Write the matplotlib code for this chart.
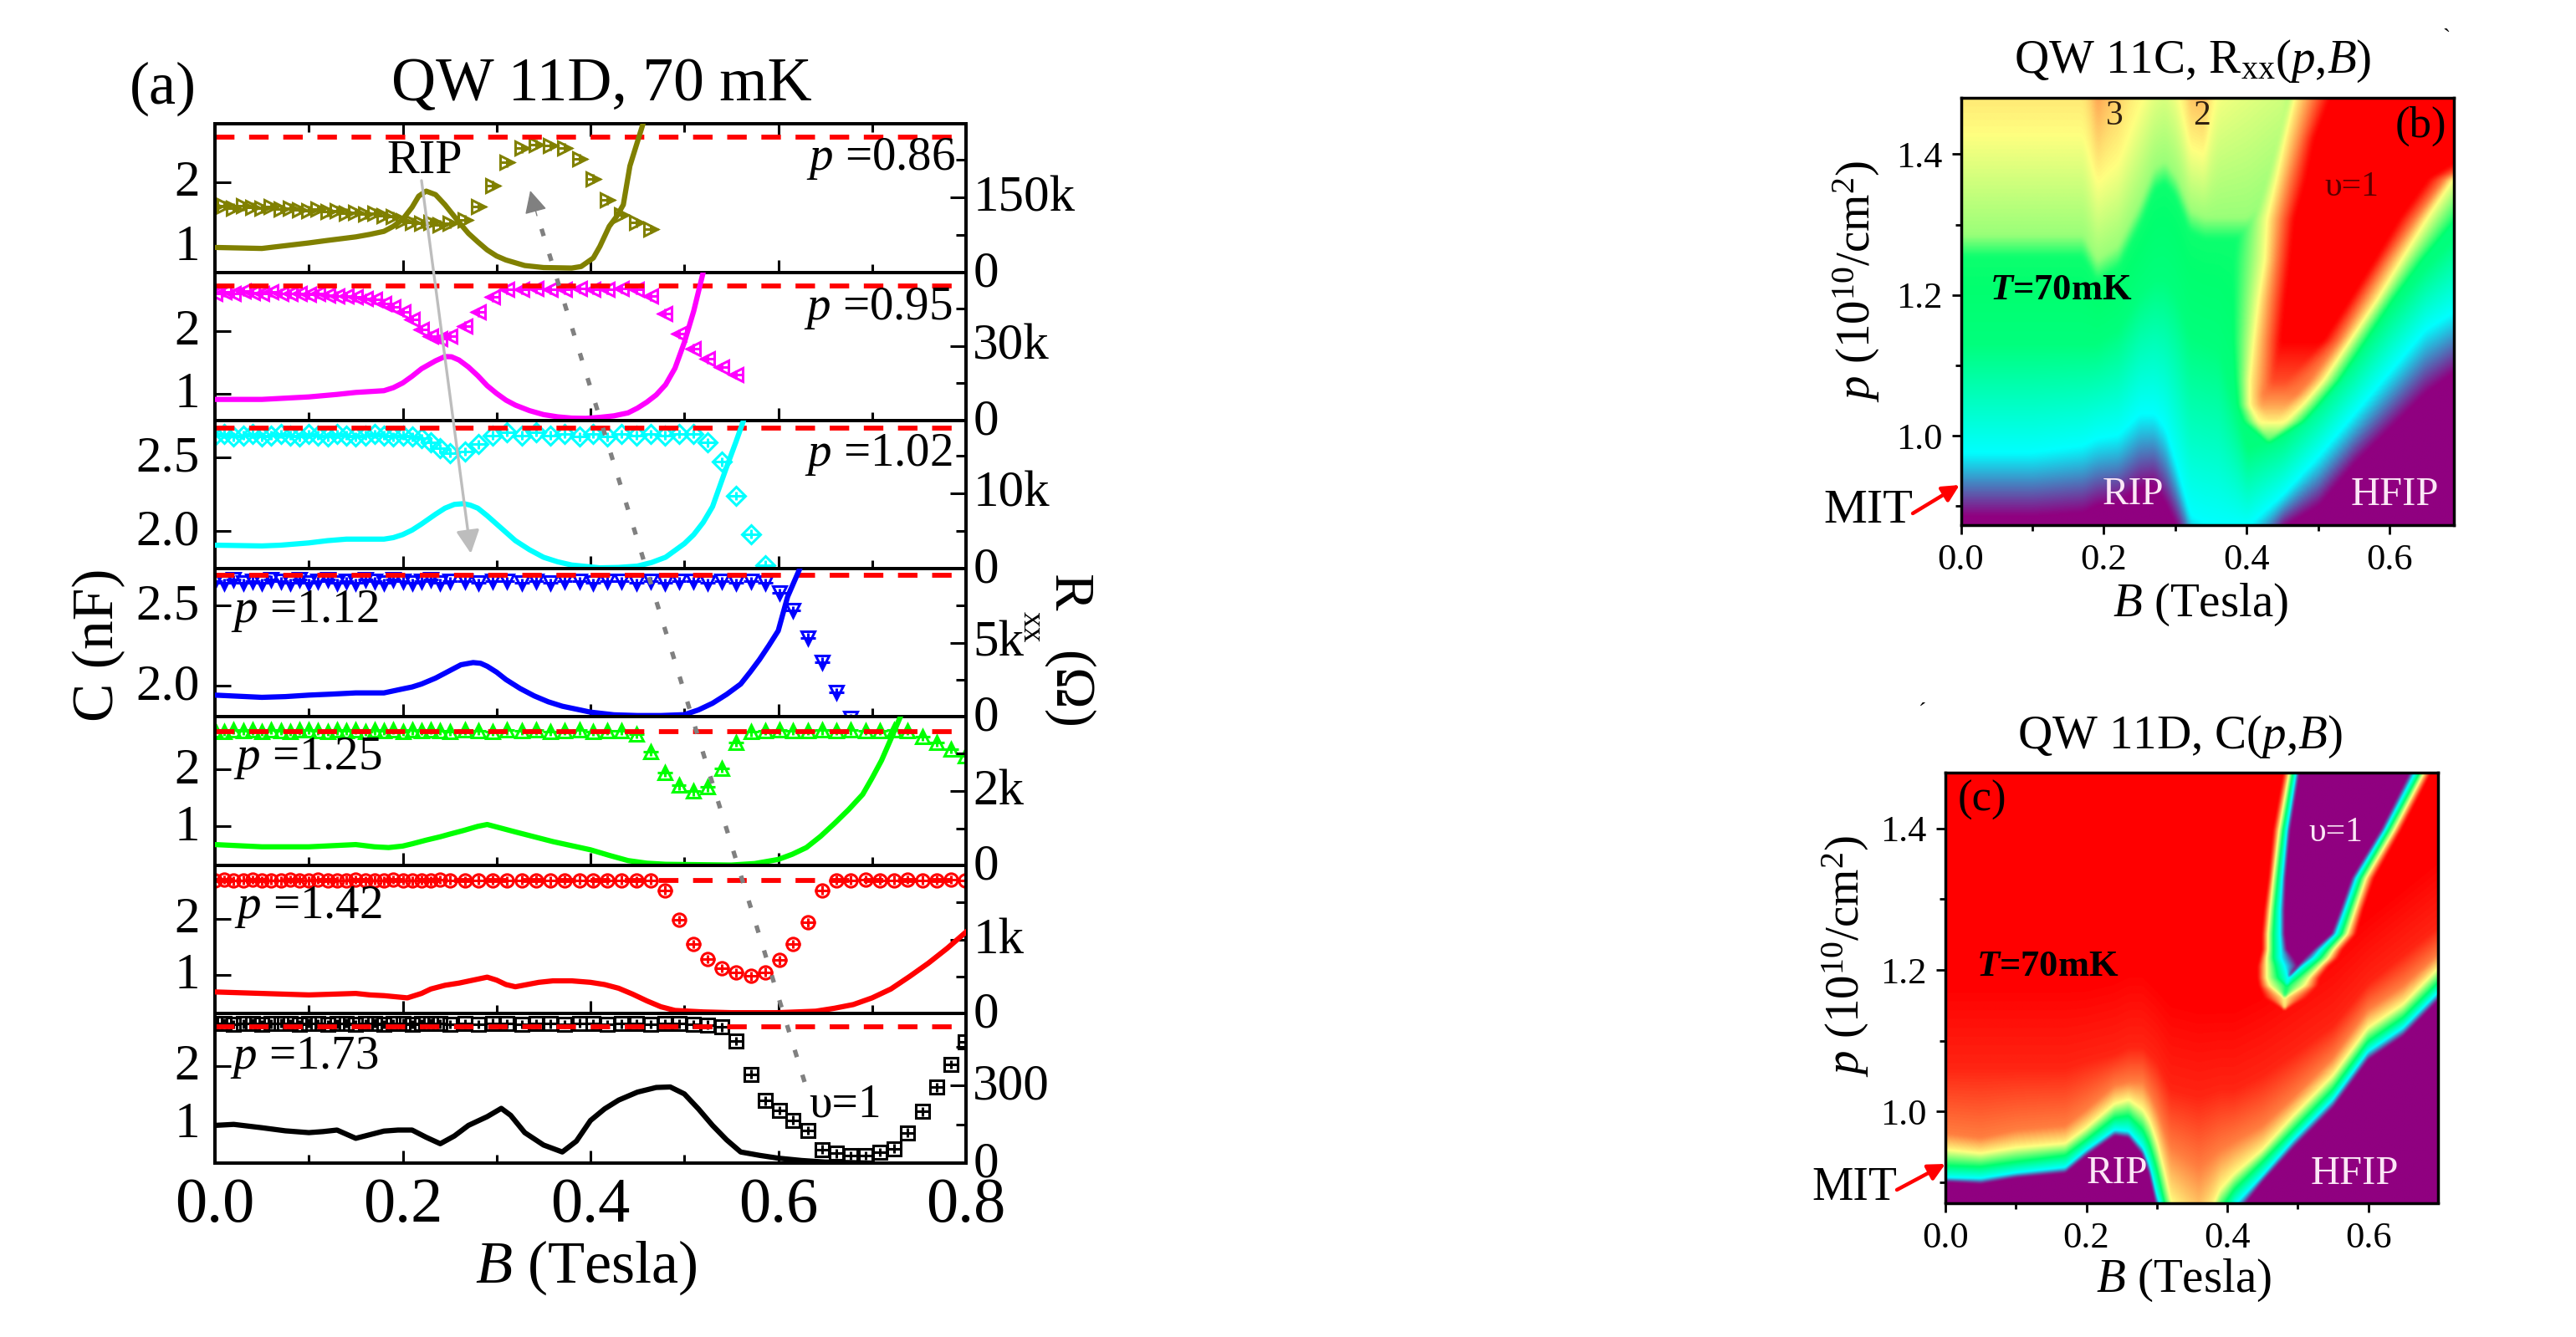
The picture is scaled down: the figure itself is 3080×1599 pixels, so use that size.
import numpy as np
import matplotlib
matplotlib.use("Agg")
import matplotlib.pyplot as plt
from matplotlib.colors import LinearSegmentedColormap
from matplotlib.patches import FancyArrowPatch
from matplotlib.ticker import FixedLocator, FixedFormatter, NullFormatter
from matplotlib.transforms import ScaledTranslation

plt.rcParams['font.family'] = ['Liberation Serif', 'DejaVu Serif']
plt.rcParams['mathtext.fontset'] = 'custom'
plt.rcParams['mathtext.rm'] = 'Liberation Serif'
plt.rcParams['mathtext.it'] = 'Liberation Serif:italic'
plt.rcParams['mathtext.bf'] = 'Liberation Serif:bold'
plt.rcParams['mathtext.bfit'] = 'Liberation Serif:italic:bold'

W, H = 3080, 1599

# ---------- panel (a) data ----------
B_grid = [0, .01, .02, .03, .04, .05, .06, .07, .08, .09, .10, .11, .12, .13, .14, .15, .16, .17, .18, .19, .20, .21, .22, .23, .24, .25,
          .266, .281, .296, .311, .327, .342, .357, .372, .388, .403, .418, .433, .449, .464, .479, .494, .51, .525, .54, .555, .571, .586,
          .601, .616, .632, .647, .662, .677, .693, .708, .723, .738, .754, .769, .784, .799]

C_086 = [1.62, 1.64, 1.60, 1.63, 1.61, 1.59, 1.62, 1.58, 1.60, 1.57, 1.56, 1.58, 1.54, 1.56, 1.52, 1.53, 1.50, 1.52, 1.48, 1.47, 1.40, 1.38, 1.36, 1.38, 1.34, 1.36,
         1.42, 1.62, 1.95, 2.30, 2.52, 2.58, 2.56, 2.53, 2.36, 2.05, 1.72, 1.49, 1.37, 1.27]
C_095 = [2.60, 2.62, 2.60, 2.63, 2.61, 2.60, 2.62, 2.60, 2.59, 2.60, 2.58, 2.59, 2.57, 2.56, 2.55, 2.54, 2.52, 2.50, 2.44, 2.38, 2.30, 2.18, 2.02, 1.92, 1.87, 1.92,
         2.08, 2.30, 2.54, 2.66, 2.66, 2.67, 2.66, 2.66, 2.67, 2.66, 2.66, 2.67, 2.66, 2.55, 2.28, 1.95, 1.72, 1.55, 1.42, 1.30]
C_102 = [2.65, 2.66, 2.64, 2.65, 2.66, 2.64, 2.65, 2.66, 2.65, 2.64, 2.66, 2.65, 2.64, 2.66, 2.65, 2.64, 2.65, 2.66, 2.65, 2.64, 2.65, 2.64, 2.63, 2.60, 2.56, 2.53,
         2.54, 2.59, 2.65, 2.67, 2.65, 2.67, 2.65, 2.66, 2.64, 2.66, 2.64, 2.66, 2.65, 2.66, 2.65, 2.66, 2.66, 2.60, 2.47, 2.24, 1.98, 1.77]
C_112 = [2.65, 2.64, 2.66, 2.64, 2.65, 2.64, 2.66, 2.65, 2.64, 2.66, 2.64, 2.65, 2.66, 2.64, 2.65, 2.64, 2.66, 2.65, 2.64, 2.66, 2.65, 2.64, 2.65, 2.66, 2.64, 2.65,
         2.65, 2.64, 2.65, 2.65, 2.64, 2.65, 2.64, 2.65, 2.65, 2.64, 2.65, 2.65, 2.64, 2.65, 2.64, 2.65, 2.65, 2.64, 2.65, 2.64, 2.65, 2.64,
         2.58, 2.47, 2.30, 2.15, 1.96, 1.80]
C_125 = [2.69, 2.67, 2.70, 2.68, 2.69, 2.67, 2.70, 2.68, 2.67, 2.69, 2.70, 2.68, 2.67, 2.69, 2.68, 2.70, 2.67, 2.69, 2.68, 2.70, 2.67, 2.69, 2.68, 2.70, 2.68, 2.67,
         2.69, 2.68, 2.67, 2.69, 2.68, 2.69, 2.67, 2.68, 2.69, 2.67, 2.68, 2.68, 2.62, 2.32, 1.95, 1.72, 1.62, 1.69, 2.02, 2.48, 2.66, 2.68,
         2.69, 2.68, 2.68, 2.69, 2.68, 2.69, 2.68, 2.68, 2.69, 2.68, 2.58, 2.48, 2.36, 2.24]
C_142 = [2.68, 2.69, 2.67, 2.68, 2.69, 2.67, 2.68, 2.67, 2.69, 2.68, 2.67, 2.69, 2.68, 2.67, 2.68, 2.69, 2.67, 2.68, 2.67, 2.69, 2.68, 2.67, 2.68, 2.67, 2.69, 2.68,
         2.67, 2.68, 2.68, 2.67, 2.68, 2.68, 2.67, 2.68, 2.68, 2.67, 2.68, 2.68, 2.67, 2.68, 2.50, 1.98, 1.55, 1.28, 1.12, 1.04, .98, 1.05,
         1.26, 1.55, 1.93, 2.50, 2.68, 2.68, 2.69, 2.68, 2.68, 2.69, 2.68, 2.68, 2.69, 2.68]
C_173 = [2.74, 2.75, 2.73, 2.74, 2.75, 2.73, 2.74, 2.75, 2.74, 2.73, 2.75, 2.74, 2.73, 2.74, 2.75, 2.73, 2.74, 2.75, 2.73, 2.74, 2.75, 2.73, 2.74, 2.75, 2.74, 2.73,
         2.74, 2.73, 2.75, 2.74, 2.73, 2.74, 2.74, 2.73, 2.75, 2.74, 2.73, 2.74, 2.74, 2.73, 2.74, 2.74, 2.73, 2.72, 2.68, 2.44, 1.86, 1.40,
         1.23, 1.06, .88, .55, .48, .44, .44, .50, .56, .84, 1.21, 1.63, 2.03, 2.43]

B_R_086 = [0, .05, .10, .12, .15, .165, .18, .19, .20, .21, .217, .225, .235, .245, .26, .27, .28, .29, .30, .31, .33, .35, .38, .39, .403, .41, .42, .428, .435, .442, .456]
R_086 = [50, 48, 59, 64, 71, 76, 82, 92, 106, 130, 152, 162, 155, 135, 100, 78, 61, 45, 33, 25, 14, 10, 9, 12, 29, 52, 92, 112, 135, 212, 296]
B_R_095 = [0, .05, .10, .13, .15, .18, .19, .20, .21, .22, .235, .245, .252, .26, .27, .28, .29, .30, .31, .32, .335, .35, .365, .38, .395, .41, .425, .44, .45, .46, .47, .48, .49, .50, .51, .52]
R_095 = [8.5, 8.5, 9.5, 10.5, 11.3, 12, 13.2, 15.1, 17.8, 20.8, 24, 25.7, 25.6, 24.3, 21.5, 18, 14, 10.9, 8.2, 6.2, 4, 2.4, 1.5, 1, .9, 1.3, 1.9, 3.1, 5, 7.4, 10.3, 14.4, 21, 31.4, 44, 59.4]
B_R_102 = [0, .05, .07, .10, .12, .14, .16, .18, .19, .20, .21, .22, .235, .245, .255, .265, .272, .28, .29, .30, .31, .32, .335, .35, .365, .38, .41, .43, .45, .465, .48, .50, .51, .52, .53, .544, .555, .563]
R_102 = [3.1, 3.0, 3.1, 3.4, 3.7, 3.9, 3.9, 3.9, 4.1, 4.5, 5.1, 5.9, 7.2, 8.0, 8.5, 8.6, 8.4, 8.0, 7, 5.9, 4.8, 3.7, 2.5, 1.5, .9, .47, .1, .15, .33, .8, 1.5, 3.3, 4.5, 6.1, 8.2, 13.1, 16.8, 19.6]
B_R_112 = [0, .05, .075, .10, .125, .15, .18, .20, .21, .22, .235, .25, .262, .275, .283, .29, .30, .31, .325, .34, .355, .37, .385, .40, .425, .45, .475, .50, .515, .53, .545, .56, .57, .58, .59, .60, .61, .623]
R_112 = [1.45, 1.3, 1.35, 1.45, 1.52, 1.6, 1.6, 1.87, 2.0, 2.2, 2.6, 3.1, 3.5, 3.65, 3.6, 3.4, 3.0, 2.5, 1.9, 1.4, 1.0, .7, .5, .3, .12, .07, .07, .13, .45, .9, 1.5, 2.2, 3.0, 3.85, 4.8, 5.8, 8.1, 10]
B_R_125 = [0, .05, .075, .10, .125, .15, .17, .185, .20, .21, .225, .24, .25, .265, .28, .29, .305, .32, .34, .36, .38, .40, .42, .44, .46, .48, .55, .575, .60, .615, .63, .645, .66, .675, .69, .70, .71, .72, .73]
R_125 = [.56, .5, .5, .5, .53, .56, .5, .48, .52, .58, .68, .77, .84, .94, 1.05, 1.10, 1.0, .9, .77, .64, .53, .42, .27, .13, .06, .03, .01, .05, .16, .3, .48, .78, 1.13, 1.5, 1.91, 2.35, 2.82, 3.4, 3.99]
B_R_142 = [0, .05, .075, .10, .125, .15, .165, .18, .205, .22, .23, .245, .26, .275, .29, .30, .31, .32, .345, .36, .38, .40, .415, .43, .445, .46, .475, .49, .52, .55, .60, .64, .66, .68, .70, .72, .74, .76, .78, .80]
R_142 = [.29, .27, .26, .25, .26, .27, .25, .24, .21, .27, .33, .38, .41, .45, .49, .45, .39, .36, .42, .44, .44, .42, .39, .34, .26, .17, .09, .04, .02, .01, .01, .03, .07, .12, .21, .33, .5, .68, .88, 1.10]
B_R_173 = [0, .02, .05, .075, .10, .115, .13, .15, .165, .18, .195, .21, .225, .24, .255, .27, .29, .305, .315, .33, .35, .37, .385, .40, .415, .43, .45, .47, .485, .50, .515, .53, .545, .56, .58, .60, .625, .65, .70]
R_173 = [.146, .150, .137, .125, .118, .122, .128, .096, .11, .124, .128, .128, .10, .075, .105, .146, .18, .212, .185, .118, .07, .043, .085, .165, .21, .244, .275, .293, .295, .268, .21, .146, .09, .043, .03, .019, .01, .004, 0]

panel_edges = [148, 326, 503, 680, 857, 1035, 1212, 1391]
series_C = [C_086, C_095, C_102, C_112, C_125, C_142, C_173]
series_B_R = [B_R_086, B_R_095, B_R_102, B_R_112, B_R_125, B_R_142, B_R_173]
series_R = [R_086, R_095, R_102, R_112, R_125, R_142, R_173]
colors = ['#808000', '#FF00FF', '#00FFFF', '#0000FF', '#00FF00', '#FF0000', '#000000']
markers = ['>', '<', 'D', 'v', '^', 'o', 's']
C_limits = [(.6, 2.9), (.567, 2.93), (1.746, 2.75), (1.81, 2.73), (.316, 2.93), (.32, 2.94), (.31, 2.92)]
C_ticks = [[1, 2], [1, 2], [2.0, 2.5], [2.0, 2.5], [1, 2], [1, 2], [1, 2]]
C_ticklabels = [['1', '2'], ['1', '2'], ['2.0', '2.5'], ['2.0', '2.5'], ['1', '2'], ['1', '2'], ['1', '2']]
C_dashed = [2.69, 2.71, 2.70, 2.686, 2.667, 2.675, 2.68]
R_top = [296, 59.4, 19.6, 10, 4, 2, .58]
R_major = [[0, 150], [0, 30], [0, 10], [0, 5], [0, 2], [0, 1], [0, .3]]
R_minor = [[75, 225], [15, 45], [5, 15], [2.5, 7.5], [1, 3], [.5, 1.5], [.15, .45]]
R_ticklabels = [['0', '150k'], ['0', '30k'], ['0', '10k'], ['0', '5k'], ['0', '2k'], ['0', '1k'], ['0', '300']]

# ---------- panel (b) data: contour lines p(B) ----------
b_cols = [0, .10, .17, .19, .22, .25, .27, .285, .30, .32, .34, .36, .40, .45, .50, .55, .60, .65, .69]
b_purple = [.885, .885, .89, .90, .905, .925, .93, .905, .875, .83, .80, .80, .80, .87, .90, .96, 1.01, 1.06, 1.09]
b_cyan = [.975, .975, .985, .995, 1.0, 1.03, 1.03, 1.01, .96, .885, .875, .87, .87, .915, .97, 1.03, 1.09, 1.15, 1.175]
b_green = [1.13, 1.13, 1.13, 1.13, 1.15, 1.2, 1.22, 1.22, 1.2, 1.14, 1.13, 1.12, .98, 1.0, 1.05, 1.11, 1.18, 1.24, 1.28]
b_lime = [1.285, 1.285, 1.285, 1.25, 1.27, 1.33, 1.38, 1.39, 1.37, 1.32, 1.31, 1.31, 1.31, 1.35, 1.7, 1.8, 1.8, 1.8, 1.8]
b_yellow = [1.43, 1.43, 1.43, 1.36, 1.39, 1.47, 1.52, 1.54, 1.5, 1.41, 1.40, 1.5, 1.55, 1.6, 1.9, 2, 2, 2, 2]
b_orange = [1.8, 1.8, 1.8, 1.56, 1.7, 1.9, 1.9, 1.9, 1.9, 1.6, 1.58, 1.9, 2, 2, 2.1, 2.2, 2.2, 2.2, 2.2]
# tongue of the v=1 peak, read row by row
bt_rows = [.99, 1.02, 1.043, 1.078, 1.135, 1.193, 1.25, 1.308, 1.365, 1.423, 1.48]
bt_top = [2.2, 3.05, 3.35, 3.7, 4, 4, 4, 4, 4, 4, 4]
bt_L2 = [.43, .395, .387, .384, .381, .381, .381, .387, .406, .425, .44]
bt_L3 = [.43, .415, .403, .403, .409, .416, .425, .428, .441, .453, .466]
bt_L35 = [.43, .43, .42, .425, .428, .434, .441, .447, .46, .475, .491]
bt_L4 = [.43, .43, .43, .435, .447, .453, .46, .466, .482, .494, .516]
bt_R4 = [.43, .44, .445, .455, .507, .544, .579, .613, .654, .748, .81]
bt_R35 = [.43, .44, .455, .488, .529, .563, .597, .635, .676, .786, 1.0]
bt_R3 = [.43, .455, .478, .507, .544, .582, .616, .651, .688, .81, 1.1]
bt_R2 = [.43, .48, .50, .529, .566, .604, .645, .692, .735, .873, 1.2]

# ---------- panel (c) data: contour lines p(B) ----------
c_cols = [0, .05, .10, .17, .20, .24, .26, .28, .29, .30, .31, .32, .36, .39, .41, .45, .494, .55, .60, .65, .70]
c_purple = [.900, .897, .9056, .9124, .937, .965, .962, .937, .9085, .863, .832, .776, .719, .776, .849, .900, .948, 1.0045, 1.072, 1.106, 1.157]
c_cyan = [.9056, .9045, .9124, .920, .945, .973, .971, .948, .9226, .880, .855, .804, .74, .815, .866, .9085, .959, 1.016, 1.084, 1.1175, 1.168]
c_green = [.9226, .921, .928, .937, .959, .990, .993, .973, .951, .917, .872, .832, .78, .860, .889, .928, .973, 1.030, 1.098, 1.132, 1.182]
c_yellow = [.945, .940, .948, .954, .976, 1.010, 1.016, 1.002, .985, .9565, .917, .872, .82, .889, .911, .945, .993, 1.05, 1.1175, 1.151, 1.202]
c_orange = [.968, .962, .973, .979, 1.002, 1.036, 1.041, 1.041, 1.024, 1.002, .973, .948, .92, .945, .9565, .979, 1.019, 1.075, 1.143, 1.177, 1.222]
c_nearred = [1.06, 1.06, 1.06, 1.06, 1.07, 1.08, 1.09, 1.09, 1.08, 1.07, 1.05, 1.03, 1.02, 1.03, 1.03, 1.05, 1.08, 1.12, 1.18, 1.22, 1.26]
c_red = [1.18, 1.18, 1.18, 1.18, 1.18, 1.19, 1.2, 1.2, 1.19, 1.18, 1.17, 1.16, 1.15, 1.15, 1.15, 1.17, 1.2, 1.24, 1.28, 1.32, 1.36]
ct_rows = [1.143, 1.16, 1.177, 1.188, 1.205, 1.216, 1.228, 1.25, 1.284, 1.329, 1.397, 1.476]
ct_Lred = [.4814, .452, .445, .4432, .4432, .4464, .4496, .4496, .4528, .4592, .4655, .4801]
ct_Lyel = [.4814, .4814, .46, .456, .456, .456, .4579, .4579, .461, .4655, .4738, .4878]
ct_Lgrn = [.4814, .4814, .4846, .472, .4687, .4655, .4655, .4655, .4674, .4719, .4795, .4928]
ct_Lcyn = [.4814, .4814, .4846, .487, .4814, .4763, .4763, .475, .475, .4782, .4846, .4973]
ct_Lpur = [.4814, .4814, .4846, .487, .5005, .4941, .4846, .4814, .4814, .4827, .489, .5018]
ct_Rpur = [.4814, .4814, .4846, .487, .5005, .51, .5227, .5482, .5609, .5768, .6181, .6582]
ct_Rcyn = [.4814, .4814, .4846, .487, .5068, .5227, .5323, .5545, .5672, .5832, .6245, .6658]
ct_Rgrn = [.4814, .4814, .4846, .4992, .5196, .5323, .5418, .5622, .5736, .5895, .629, .6722]
ct_Ryel = [.4814, .4814, .51, .5164, .5323, .5437, .5513, .5704, .5819, .5971, .6372, .6785]
ct_Rred = [.4814, .515, .53, .5323, .545, .5577, .5641, .5832, .5927, .6086, .6467, .6881]

# ---------- colours shared by the two maps ----------
map_cmap = LinearSegmentedColormap.from_list('origin', [
    (0.0, '#900080'), (.25, '#00FFFF'), (.5, '#00FF6E'), (.75, '#FFFF80'), (1.0, '#FF0000')])


def soften(Z, n=5):
    k = np.ones(n) / n
    pad = n // 2
    P = np.pad(Z, pad, mode='edge')
    P = np.apply_along_axis(lambda a: np.convolve(a, k, mode='valid'), 0, P)
    P = np.apply_along_axis(lambda a: np.convolve(a, k, mode='valid'), 1, P)
    return P


def map_b():
    Bs = np.linspace(0, .69, 700)
    Ps = np.linspace(.873, 1.48, 600)
    Z = np.zeros((Ps.size, Bs.size))
    vals = [0, 1, 1.9, 2.05, 2.6, 3, 3.6]
    for j, b in enumerate(Bs):
        lime = np.interp(b, b_cols, b_lime)
        a = [np.interp(b, b_cols, b_purple), np.interp(b, b_cols, b_cyan), np.interp(b, b_cols, b_green),
             lime - .03, lime, np.interp(b, b_cols, b_yellow), np.interp(b, b_cols, b_orange)]
        Z[:, j] = np.interp(Ps, a, vals)
    tongue = [bt_L2, bt_L3, bt_L35, bt_L4, bt_R4, bt_R35, bt_R3, bt_R2]
    for i, p in enumerate(Ps):
        if p <= bt_rows[0]:
            continue
        a = [np.interp(p, bt_rows, t) for t in tongue]
        top = np.interp(p, bt_rows, bt_top)
        mid = min(3.5, top)
        low = min(3, top)
        tv = [2, low, mid, top, top, mid, low, 2]
        Z[i] = np.maximum(Z[i], np.interp(Bs, a, tv, left=0, right=0))
    return Bs, Ps, soften(Z, 9)


def map_c():
    Bs = np.linspace(0, .70, 900)
    Ps = np.linspace(.871, 1.479, 800)
    Z = np.zeros((Ps.size, Bs.size))
    vals = [0, 1, 2, 3, 3.5, 3.85, 4]
    stack = [c_purple, c_cyan, c_green, c_yellow, c_orange, c_nearred, c_red]
    for j, b in enumerate(Bs):
        a = [np.interp(b, c_cols, s) for s in stack]
        Z[:, j] = np.interp(Ps, a, vals)
    tv = [4, 3, 2, 1, 0, 0, 1, 2, 3, 4]
    tongue = [ct_Lred, ct_Lyel, ct_Lgrn, ct_Lcyn, ct_Lpur, ct_Rpur, ct_Rcyn, ct_Rgrn, ct_Ryel, ct_Rred]
    for i, p in enumerate(Ps):
        if p <= ct_rows[0]:
            continue
        a = [np.interp(p, ct_rows, t) for t in tongue]
        Z[i] = np.minimum(Z[i], np.interp(Bs, a, tv))
    return Bs, Ps, soften(Z, 7)


fig = plt.figure(figsize=(W / 100, H / 100), dpi=100, facecolor='white')


def add_ax(left, right, top, bottom):
    return fig.add_axes([left / W, 1 - bottom / H, (right - left) / W, (bottom - top) / H])


lift = ScaledTranslation(0, 5 / 100, fig.dpi_scale_trans)

# ---------- panel (a) ----------
for i in range(7):
    ax = add_ax(257, 1155, panel_edges[i], panel_edges[i + 1])
    ax.set_xlim(0, .8)
    ax.set_ylim(*C_limits[i])
    col = colors[i]
    n = len(series_C[i])
    yerr = .03 * (C_limits[i][1] - C_limits[i][0])
    ax.errorbar(B_grid[:n], series_C[i], xerr=.008, yerr=yerr, fmt=markers[i], mfc='none', mec=col, ecolor=col,
                ms=11, mew=2.2, elinewidth=2.2, capsize=0, zorder=3)
    ax.axhline(C_dashed[i], color='#FF0000', lw=4.2, dashes=(4, 3), zorder=4)
    ax.xaxis.set_major_locator(FixedLocator([0, .2, .4, .6, .8]))
    ax.xaxis.set_minor_locator(FixedLocator([.1, .3, .5, .7]))
    ax.tick_params(axis='x', which='major', direction='in', length=11, width=2.2, top=(i == 0),
                   labelbottom=(i == 6), labelsize=55, pad=12)
    ax.tick_params(axis='x', which='minor', direction='in', length=7, width=2.2, top=(i == 0))
    if i == 6:
        ax.set_xticklabels(['0.0', '0.2', '0.4', '0.6', '0.8'])
    ax.set_yticks(C_ticks[i])
    ax.set_yticklabels(C_ticklabels[i])
    ax.tick_params(axis='y', direction='in', length=14, width=2.2, labelsize=44, pad=13)
    for lab in ax.get_yticklabels():
        lab.set_transform(lab.get_transform() + lift)
    ax2 = ax.twinx()
    ax2.set_ylim(0, R_top[i])
    ax2.plot(series_B_R[i], series_R[i], color=col, lw=4.5, solid_joinstyle='round', zorder=5)
    ax2.yaxis.set_major_locator(FixedLocator(R_major[i]))
    ax2.yaxis.set_major_formatter(FixedFormatter(R_ticklabels[i]))
    ax2.yaxis.set_minor_locator(FixedLocator(R_minor[i]))
    ax2.yaxis.set_minor_formatter(NullFormatter())
    ax2.tick_params(axis='y', which='major', direction='in', length=14, width=2.2, labelsize=44, pad=6)
    ax2.tick_params(axis='y', which='minor', direction='in', length=9, width=2.2)
    for lab in ax2.get_yticklabels():
        lab.set_transform(lab.get_transform() + lift)
    for a in (ax, ax2):
        for s in a.spines.values():
            s.set_linewidth(2.8)


# ---------- panels (b) and (c) ----------
def heat(box, xmax, ylim, maker):
    ax = add_ax(*box)
    Bs, Ps, Z = maker()
    ax.imshow(Z, origin='lower', aspect='auto', cmap=map_cmap, vmin=0, vmax=4,
              extent=[0, Bs[-1], Ps[0], Ps[-1]], interpolation='bilinear')
    ax.set_xlim(0, xmax)
    ax.set_ylim(*ylim)
    ax.set_xticks([0, .2, .4, .6])
    ax.set_xticklabels(['0.0', '0.2', '0.4', '0.6'])
    ax.set_xticks([.1, .3, .5], minor=True)
    ax.set_yticks([1.0, 1.2, 1.4])
    ax.set_yticklabels(['1.0', '1.2', '1.4'])
    ax.set_yticks([.9, 1.1, 1.3], minor=True)
    ax.tick_params(which='major', direction='out', length=8, width=2, labelsize=32, pad=8)
    ax.tick_params(which='minor', direction='out', length=5, width=2)
    for s in ax.spines.values():
        s.set_linewidth(2.5)
    return ax


heat((2344.5, 2934, 117, 628), .69, (.873, 1.48), map_b)
heat((2326, 2915, 924, 1438.5), .699, (.871, 1.479), map_c)

# ---------- overlay: annotations placed in figure pixels ----------
ov = fig.add_axes([0, 0, 1, 1], zorder=20)
ov.set_xlim(0, W)
ov.set_ylim(H, 0)
ov.axis('off')


def T(x, y, s, size, **kw):
    kw.setdefault('ha', 'center')
    kw.setdefault('va', 'center')
    ov.text(x, y, s, fontsize=size, **kw)


def arrow(start, end, color, lw, scale):
    ov.add_patch(FancyArrowPatch(start, end, arrowstyle='-|>', color=color, lw=lw, mutation_scale=scale,
                                 shrinkA=0, shrinkB=0))


T(195, 106, '(a)', 52)
T(719, 102, 'QW 11D, 70 mK', 53)
T(701, 1516, r'$B$ (Tesla)', 52)
T(118, 771, 'C (nF)', 50, rotation=90)
T(1277, 708, 'R', 48, rotation=-90)
T(1233, 750, 'xx', 27, rotation=-90)
T(1277, 825, '(Ω)', 48, rotation=-90)

for (x, y, s) in [(1053, 190, '$p$ =0.86'), (1050, 369, '$p$ =0.95'), (1050, 544, '$p$ =1.02'),
                  (364, 731, '$p$ =1.12'), (368, 907, '$p$ =1.25'), (368, 1085, '$p$ =1.42'), (364, 1265, '$p$ =1.73')]:
    T(x, y, s, 41)
T(508, 193, 'RIP', 42)
T(1011, 1322, 'υ=1', 40)

arrow((504, 216), (563, 662), '#BDBDBD', 2.4, 42)
ov.plot([962, 642], [1294, 256], color='#808080', lw=3.8, dashes=(1.7, 4.2))
arrow((642, 258), (634, 228), '#808080', 1, 42)

# panel (b) texts
T(2622, 73, r'QW 11C, R$_{\mathrm{xx}}$($p$,$B$)', 41)
T(2631, 723, r'$B$ (Tesla)', 41)
T(2220, 336, r'$p$ (10$^{10}$/cm$^{2}$)', 41, rotation=90)
T(2894, 151, '(b)', 38)
T(2528, 139, '3', 30, color='#302010')
T(2633, 139, '2', 30, color='#302010')
T(2812, 224, 'υ=1', 30, color='#5A0000')
T(2464, 347, r'$\mathbfit{T}$=70mK', 32, fontweight='bold')
T(2550, 592, 'RIP', 34, color='#FBE6F6')
T(2863, 592, 'HFIP', 35, color='#FBE6F6')
T(2234, 611, 'MIT', 42)
arrow((2287, 614), (2343, 580), '#FF0000', 3.2, 30)
T(2925, 47, '`', 20)

# panel (c) texts
T(2606, 881, r'QW 11D, C($p$,$B$)', 41)
T(2611, 1531, r'$B$ (Tesla)', 41)
T(2207, 1143, r'$p$ (10$^{10}$/cm$^{2}$)', 41, rotation=90)
T(2370, 957, '(c)', 38)
T(2793, 996, 'υ=1', 30, color='#FBE6F6')
T(2448, 1156, r'$\mathbfit{T}$=70mK', 32, fontweight='bold')
T(2531, 1404, 'RIP', 34, color='#FBE6F6')
T(2815, 1404, 'HFIP', 35, color='#FBE6F6')
T(2268, 1421, 'MIT', 40, ha='right')
arrow((2268, 1423), (2326, 1392), '#FF0000', 3.2, 30)
T(2298, 852, '´', 20)

fig.savefig('out.png', dpi=100, facecolor='white')
